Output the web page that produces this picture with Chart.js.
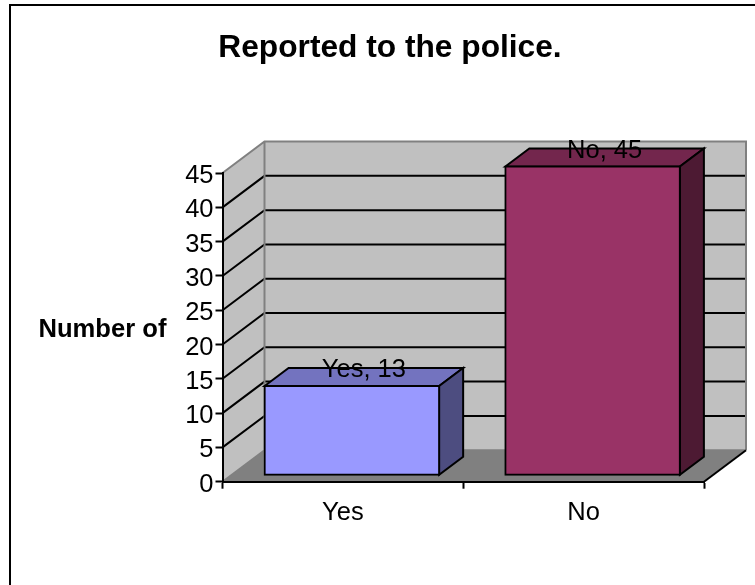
<!DOCTYPE html>
<html>
<head>
<meta charset="utf-8">
<style>
  html, body { margin: 0; padding: 0; background: #fff; overflow: hidden; }
  #frame { position: absolute; left: 0; top: 0; width: 755px; height: 585px; }
</style>
<script src="https://cdn.jsdelivr.net/npm/chart.js@4/dist/chart.umd.min.js"></script>
</head>
<body>
<div id="frame"><canvas id="chart" width="755" height="585"></canvas></div>
<script>
const categories = ['Yes', 'No'];
const reported = [13, 45];
const frontColors = ['#9999FF', '#993366'];
const topColors = ['#7373BF', '#73264D'];
const sideColors = ['#4D4D80', '#4D1A33'];
const chartTitle = 'Reported to the police.';
const yAxisName = 'Number of';

const FONT = '"Liberation Sans", Arial, sans-serif';
const WALL = { dx: 42, dy: 31.5 };       // depth of the box behind the axes
const BAR_OFFSET = { dx: 9, dy: 6.5 };   // where the bar fronts sit inside the box
const BAR_DEPTH = { dx: 24, dy: 18 };
const shifted = new WeakSet();

function poly(ctx, pts, fill, stroke, lw) {
  ctx.beginPath();
  pts.forEach((p, i) => (i ? ctx.lineTo(p[0], p[1]) : ctx.moveTo(p[0], p[1])));
  ctx.closePath();
  if (fill) { ctx.fillStyle = fill; ctx.fill(); }
  if (stroke) { ctx.strokeStyle = stroke; ctx.lineWidth = lw; ctx.lineJoin = 'miter'; ctx.stroke(); }
}

const box3d = {
  id: 'box3d',
  beforeDraw(chart) {
    const { ctx, chartArea: a, scales: { y } } = chart;
    const { dx, dy } = WALL;

    // tick numbers sit slightly below their tick marks
    const items = y.getLabelItems(a);
    if (!shifted.has(items)) {
      items.forEach(it => { it.options.translation[1] += 3; });
      shifted.add(items);
    }

    ctx.save();
    // side wall, back wall, floor
    poly(ctx, [[a.left, a.bottom], [a.left, a.top], [a.left + dx, a.top - dy], [a.left + dx, a.bottom - dy]], '#C0C0C0');
    poly(ctx, [[a.left + dx, a.top - dy], [a.right + dx, a.top - dy], [a.right + dx, a.bottom - dy], [a.left + dx, a.bottom - dy]], '#C0C0C0');
    poly(ctx, [[a.left, a.bottom], [a.left + dx, a.bottom - dy], [a.right + dx, a.bottom - dy], [a.right, a.bottom]], '#808080');
    // grid lines wrap from the side wall on to the back wall
    ctx.strokeStyle = '#000';
    ctx.lineWidth = 2;
    y.ticks.forEach(t => {
      if (t.value === 0 || t.value === y.max) return;
      const py = y.getPixelForValue(t.value);
      ctx.beginPath();
      ctx.moveTo(a.left, py);
      ctx.lineTo(a.left + dx, py - dy);
      ctx.lineTo(a.right + dx, py - dy);
      ctx.stroke();
    });
    // wall outline
    ctx.strokeStyle = '#808080';
    ctx.beginPath();
    ctx.moveTo(a.left, a.top);
    ctx.lineTo(a.left + dx, a.top - dy);
    ctx.lineTo(a.right + dx, a.top - dy);
    ctx.lineTo(a.right + dx, a.bottom - dy);
    ctx.moveTo(a.left + dx, a.top - dy);
    ctx.lineTo(a.left + dx, a.bottom - dy);
    ctx.lineTo(a.right + dx, a.bottom - dy);
    ctx.moveTo(a.left, a.bottom);
    ctx.lineTo(a.left + dx, a.bottom - dy);
    ctx.stroke();
    // front edge of the floor on the right
    ctx.strokeStyle = '#000';
    ctx.beginPath();
    ctx.moveTo(a.right, a.bottom);
    ctx.lineTo(a.right + dx, a.bottom - dy);
    ctx.stroke();
    ctx.restore();
  },
  beforeDatasetsDraw(chart) {
    const { ctx } = chart;
    // extruded faces of each bar, then the library draws the front
    const meta = chart.getDatasetMeta(0);
    ctx.save();
    ctx.translate(BAR_OFFSET.dx, -BAR_OFFSET.dy);
    meta.data.forEach((bar, i) => {
      const l = bar.x - bar.width / 2, r = bar.x + bar.width / 2;
      const t = bar.y, b = bar.base;
      const d = BAR_DEPTH;
      poly(ctx, [[l, t], [l + d.dx, t - d.dy], [r + d.dx, t - d.dy], [r, t]], topColors[i], '#000', 2);
      poly(ctx, [[r, t], [r + d.dx, t - d.dy], [r + d.dx, b - d.dy], [r, b]], sideColors[i], '#000', 2);
    });
    ctx.restore();
    ctx.save();
    ctx.translate(BAR_OFFSET.dx, -BAR_OFFSET.dy);
  },
  afterDatasetsDraw(chart) {
    const { ctx } = chart;
    ctx.restore();
    // "category, value" labels on the bar tops
    const meta = chart.getDatasetMeta(0);
    ctx.save();
    ctx.fillStyle = '#000';
    ctx.font = '25.5px ' + FONT;
    ctx.textAlign = 'center';
    ctx.textBaseline = 'middle';
    meta.data.forEach((bar, i) => {
      ctx.fillText(categories[i] + ', ' + reported[i],
        bar.x + BAR_OFFSET.dx + BAR_DEPTH.dx / 2,
        bar.y - BAR_OFFSET.dy - BAR_DEPTH.dy + 2);
    });
    // axis name, set horizontally beside the tick labels
    ctx.font = 'bold 25.6px ' + FONT;
    ctx.textAlign = 'left';
    ctx.textBaseline = 'alphabetic';
    ctx.fillText(yAxisName, 38.5, 337);
    ctx.restore();
  },
  afterDraw(chart) {
    // outer frame of the chart object; right and bottom run past the canvas
    const { ctx } = chart;
    ctx.save();
    ctx.strokeStyle = '#000';
    ctx.lineWidth = 2;
    ctx.strokeRect(10, 5, 800, 700);
    ctx.restore();
  }
};

new Chart(document.getElementById('chart'), {
  type: 'bar',
  data: {
    labels: categories,
    datasets: [{
      data: reported,
      backgroundColor: frontColors,
      borderColor: '#000',
      borderWidth: 2,
      borderSkipped: false,
      inflateAmount: 1,
      categoryPercentage: 1,
      barPercentage: 0.725,
      clip: false
    }]
  },
  plugins: [box3d],
  options: {
    responsive: false,
    animation: false,
    layout: { padding: { left: 76, right: 51, top: 0, bottom: 0 } },
    plugins: {
      legend: { display: false },
      tooltip: { enabled: false },
      title: {
        display: true,
        text: chartTitle,
        color: '#000',
        font: { family: FONT, size: 31.7, weight: 'bold' },
        padding: { top: 29, bottom: 106 }
      }
    },
    scales: {
      x: {
        afterFit(s) { s.height = 103.3; },
        grid: { display: true, drawOnChartArea: false, tickLength: 7, tickWidth: 2, tickColor: '#000', offset: true },
        border: { display: true, color: '#000', width: 2 },
        ticks: { color: '#000', font: { family: FONT, size: 25.5 }, padding: 9, maxRotation: 0 }
      },
      y: {
        min: 0,
        max: 45,
        afterFit(s) { s.width = 146.5; },
        grid: { display: true, drawOnChartArea: false, tickLength: 7, tickWidth: 2, tickColor: '#000' },
        border: { display: true, color: '#000', width: 2 },
        ticks: { stepSize: 5, color: '#000', font: { family: FONT, size: 25.5 }, padding: 2 }
      }
    }
  }
});
</script>
</body>
</html>
